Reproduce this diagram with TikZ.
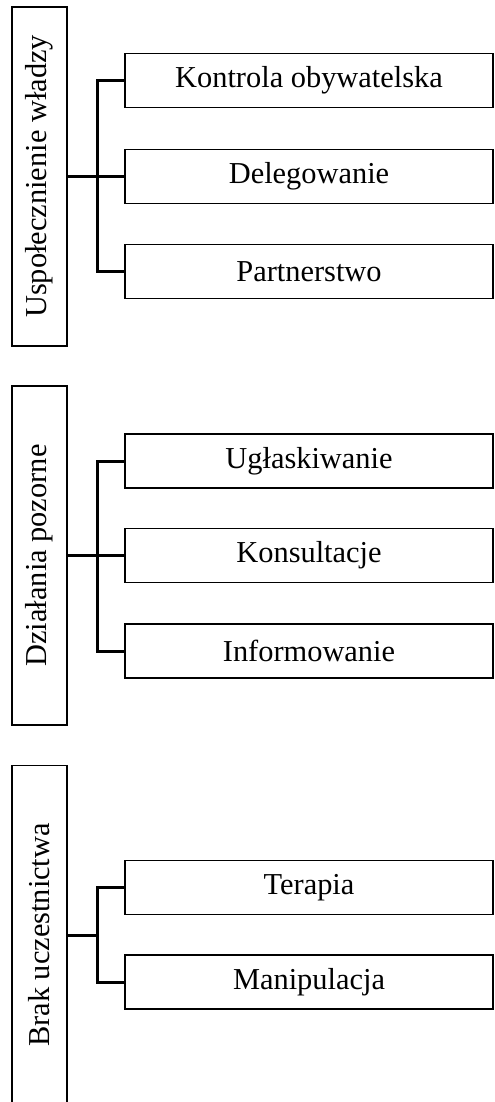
\documentclass[tikz,border=0pt]{standalone}
\usepackage{fontspec}
\setmainfont{Liberation Serif}
\usepackage{tikz}

\begin{document}
\begin{tikzpicture}[x=0.5pt, y=-0.5pt,
        grp/.style={draw, line width=0.65pt, inner sep=0pt, minimum width=27.5pt, minimum height=169.5pt},
        lvl/.style={draw, line width=0.65pt, inner sep=0pt, minimum width=184pt, minimum height=27pt},
        conn/.style={line width=1.5pt}]
        \useasboundingbox (0, 0) rectangle (494, 1102);
        \fontsize{15.2}{18}\selectfont
        % grupy
        \node [grp] (g1) at (39.5, 176.5) {\rotatebox{90}{Uspołecznienie władzy}};
        \node [grp] (g2) at (39.5, 555.5) {\rotatebox{90}{Działania pozorne}};
        \node [grp] (g3) at (39.5, 935) {\rotatebox{90}{Brak uczestnictwa}};
        % szczeble
        \node [lvl] (k1) at (309, 80.5) {Kontrola obywatelska};
        \node [lvl] (k2) at (309, 176.5) {Delegowanie};
        \node [lvl] (k3) at (309, 271.5) {Partnerstwo};
        \node [lvl] (k4) at (309, 461) {Ugłaskiwanie};
        \node [lvl] (k5) at (309, 555.5) {Konsultacje};
        \node [lvl] (k6) at (309, 651) {Informowanie};
        \node [lvl] (k7) at (309, 887.5) {Terapia};
        \node [lvl] (k8) at (309, 982) {Manipulacja};
        % polaczenia
        \coordinate (b1) at (97, 176.5);
        \coordinate (b2) at (97, 555.5);
        \coordinate (b3) at (97, 935);
        \draw [conn] (g1.east) -- (k2.west);
        \draw [conn] (k1.west) -| (b1) |- (k3.west);
        \draw [conn] (g2.east) -- (k5.west);
        \draw [conn] (k4.west) -| (b2) |- (k6.west);
        \draw [conn] (g3.east) -- (b3);
        \draw [conn] (k7.west) -| (b3) |- (k8.west);
    \end{tikzpicture}
\end{document}
